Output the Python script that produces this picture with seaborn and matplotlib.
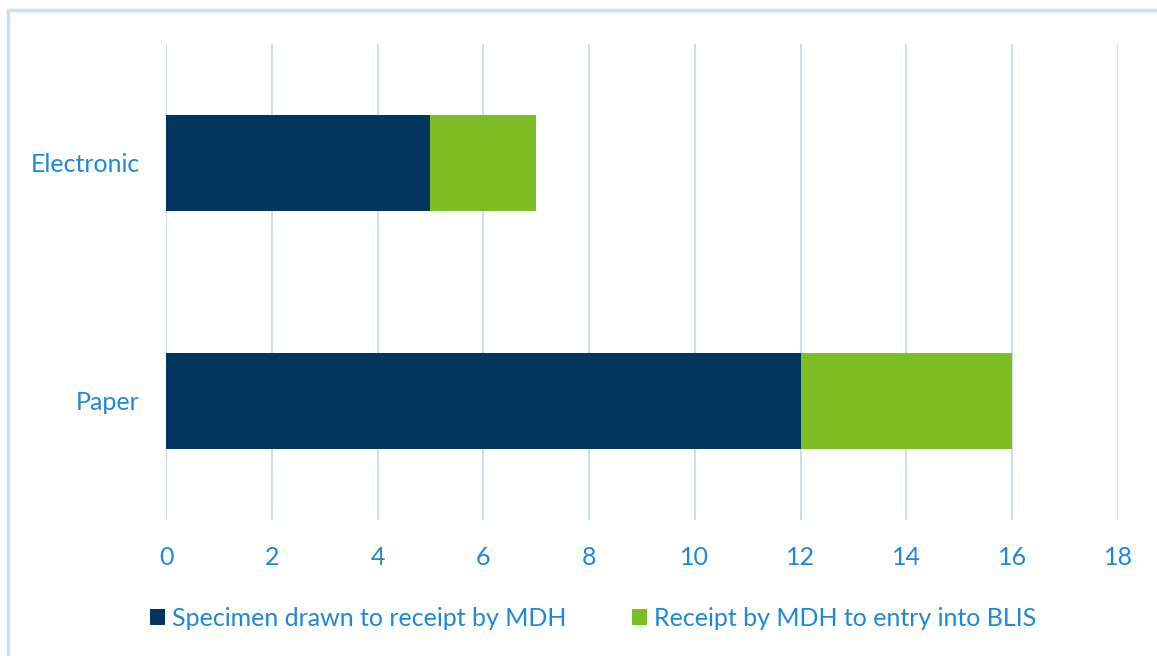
import matplotlib
matplotlib.use("Agg")
import matplotlib.pyplot as plt
from matplotlib.patches import Rectangle, Patch
import seaborn as sns
import pandas as pd

categories = ["Electronic", "Paper"]
drawn_to_receipt = [5, 12]
receipt_to_entry = [2, 4]
series_names = ["Specimen drawn to receipt by MDH", "Receipt by MDH to entry into BLIS"]
x_ticks = [0, 2, 4, 6, 8, 10, 12, 14, 16, 18]

NAVY = "#023661"
GREEN = "#7BBD22"
TEXT = "#1E87DA"
GRID = "#C6E0F4"

sns.set_theme(style="white")
plt.rcParams["font.family"] = ["Lato", "DejaVu Sans"]

df = pd.DataFrame({
    "category": categories,
    "first": drawn_to_receipt,
    "total": [a + b for a, b in zip(drawn_to_receipt, receipt_to_entry)],
})

W, H = 1157, 656
fig = plt.figure(figsize=(W / 100, H / 100), dpi=100)
ax = fig.add_axes([166 / W, (H - 520) / H, (1118 - 166) / W, (520 - 44) / H])

# stacked bars: total (green) drawn first, first segment (navy) on top
sns.barplot(data=df, x="total", y="category", orient="h", color=GREEN,
            saturation=1, width=0.4, linewidth=0, ax=ax, zorder=3)
sns.barplot(data=df, x="first", y="category", orient="h", color=NAVY,
            saturation=1, width=0.4, linewidth=0, ax=ax, zorder=4)

ax.set_xlim(0, 18)
ax.set_ylim(1.5, -0.5)
ax.set_xticks(x_ticks)
ax.set_xticklabels([str(t) for t in x_ticks])
ax.grid(axis="x", color=GRID, linewidth=1.4, zorder=0)
ax.grid(axis="y", visible=False)
for s in ax.spines.values():
    s.set_visible(False)
ax.set_xlabel("")
ax.set_ylabel("")
ax.tick_params(axis="x", colors=TEXT, labelsize=18, length=0, pad=19)
ax.tick_params(axis="y", colors=TEXT, labelsize=18, length=0, pad=19)

handles = [Patch(facecolor=NAVY, edgecolor="none"), Patch(facecolor=GREEN, edgecolor="none")]
fig.legend(handles, series_names, loc="center", bbox_to_anchor=(593 / W, (H - 618) / H),
           ncol=2, frameon=False, fontsize=18, labelcolor=TEXT,
           handlelength=0.6, handleheight=0.6, handletextpad=0.3, columnspacing=2.6)

# outer chart border
fig.patches.append(Rectangle((8 / W, -0.05), 1.2, (H - 10) / H + 0.05,
                             transform=fig.transFigure, fill=False,
                             edgecolor=GRID, linewidth=2.5))

fig.savefig("out.png", dpi=100, facecolor="white")
